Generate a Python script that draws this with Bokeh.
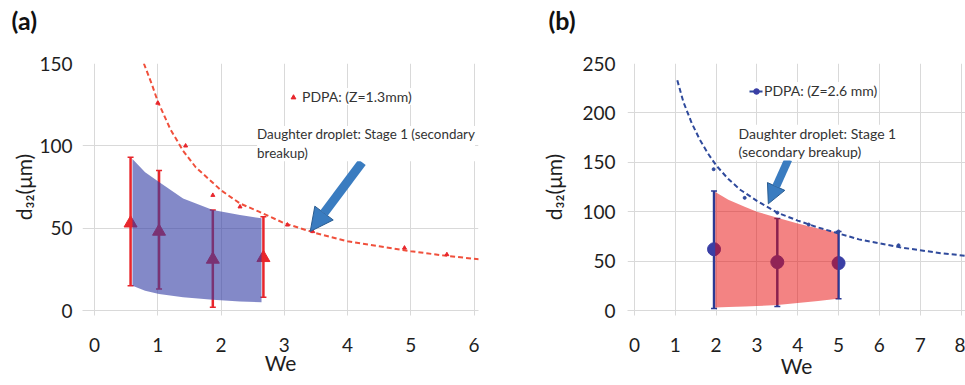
from bokeh.plotting import figure
from bokeh.layouts import row
from bokeh.models import (Label, Arrow, NormalHead, Range1d, FixedTicker,
                          Legend, LegendItem, Title)
from bokeh.embed import file_html
from bokeh.resources import INLINE

FONT = "Lato"

# ---------------- Panel (a) data ----------------
a_we = [0.57, 1.02, 1.87, 2.67]
a_mean = [53, 48, 31, 32]
a_low = [15, 13, 2, 8]
a_high = [93, 85, 61, 57]
a_band_x = [0.6, 0.8, 1.02, 1.4, 1.87, 2.3, 2.64]
a_band_upper = [92, 84, 78, 68, 61, 58, 56]
a_band_lower = [15, 12, 10, 8, 6.5, 5.5, 5]
a_fit_x = [0.78, 0.9, 1.0, 1.2, 1.4, 1.6, 1.8, 2.0, 2.3, 2.6, 3.0, 3.5, 4.0, 4.5, 5.0, 5.5, 6.1]
a_fit_y = [150, 138, 127, 110, 97, 87, 80, 73, 65, 60, 53, 47, 42, 39, 36, 33.5, 31]
a_pts_x = [1.0, 1.44, 1.87, 2.3, 3.05, 3.45, 4.9, 5.57]
a_pts_y = [126, 100, 70, 63, 52, 48, 38, 34]
a_xticks = [0, 1, 2, 3, 4, 5, 6]
a_yticks = [0, 50, 100, 150]

# ---------------- Panel (b) data ----------------
b_we = [1.95, 3.5, 5.0]
b_mean = [62, 49, 48]
b_low = [2, 4, 12]
b_high = [121, 93, 80]
b_band_x = [1.98, 2.3, 2.7, 3.0, 3.5, 4.0, 4.5, 4.98]
b_band_upper = [120, 112, 105, 100, 94, 88, 83, 79]
b_band_lower = [3, 3.5, 4, 4.5, 5.5, 7.5, 9.5, 12]
b_fit_x = [1.05, 1.2, 1.4, 1.6, 1.8, 2.0, 2.3, 2.6, 3.0, 3.5, 4.0, 4.5, 5.0, 5.5, 6.0, 6.5, 7.0, 7.5, 8.2]
b_fit_y = [233, 211, 190, 173, 159, 147, 133, 122, 111, 99, 91, 84, 78, 72, 68, 64, 61, 58, 55]
b_pts_x = [1.94, 2.7, 3.5, 4.27, 5.0, 6.47]
b_pts_y = [143, 114, 99, 87, 80, 66]
b_xticks = [0, 1, 2, 3, 4, 5, 6, 7, 8]
b_yticks = [0, 50, 100, 150, 200, 250]

GRID = "#d9d9d9"
TXT = "#1e1e1e"


def base_fig(width, x_range, y_range, border_left, border_bottom, xticks, yticks,
             ylabel_standoff, ytick_standoff, xlabel_standoff, title, title_offset):
    p = figure(width=width, height=385, x_range=Range1d(*x_range), y_range=Range1d(*y_range),
               output_backend="svg", toolbar_location=None, title=None,
               min_border_left=border_left, min_border_right=0 if width > 482 else 4,
               min_border_top=63, min_border_bottom=border_bottom)
    p.outline_line_color = None
    p.background_fill_color = "white"
    # spacer panel next to the frame, then the panel tag above it
    p.add_layout(Title(text=" ", text_font_size="10px", standoff=14), "above")
    p.add_layout(Title(text=title, align="left", vertical_align="top", offset=title_offset,
                       standoff=0, text_font=FONT, text_font_size="25px",
                       text_font_style="bold", text_color="#111111"), "above")
    p.xaxis.ticker = FixedTicker(ticks=xticks)
    p.yaxis.ticker = FixedTicker(ticks=yticks)
    p.xgrid.ticker = FixedTicker(ticks=xticks)
    p.ygrid.ticker = FixedTicker(ticks=yticks)
    p.grid.grid_line_color = GRID
    p.grid.grid_line_width = 1
    p.xaxis.axis_line_color = GRID
    p.xaxis.major_tick_line_color = GRID
    p.xaxis.major_tick_out = 5
    p.xaxis.major_tick_in = 0
    p.xaxis.minor_tick_line_color = None
    p.yaxis.axis_line_color = None
    p.yaxis.major_tick_line_color = None
    p.yaxis.minor_tick_line_color = None
    for ax in (p.xaxis, p.yaxis):
        ax.major_label_text_font = FONT
        ax.major_label_text_font_size = "19px"
        ax.major_label_text_color = TXT
        ax.axis_label_text_font = FONT
        ax.axis_label_text_font_style = "normal"
        ax.axis_label_text_font_size = "21px"
        ax.axis_label_text_color = TXT
    p.xaxis.major_label_standoff = 22
    p.yaxis.major_label_standoff = ytick_standoff
    p.yaxis.axis_label = "d₃₂(μm)"
    p.yaxis.axis_label_standoff = ylabel_standoff
    p.xaxis.axis_label = "We"
    p.xaxis.axis_label_standoff = xlabel_standoff
    return p


# ======================= Panel (a) =======================
pa = base_fig(482, (-0.19, 6.07), (0, 150), 82, 73, a_xticks, a_yticks, 0, 4, -5, "(a)", -71)

pa.segment(x0=a_we, y0=a_low, x1=a_we, y1=a_high, line_color="#e8262c", line_width=2.5)
pa.scatter(x=a_we, y=a_low, marker="dash", size=6, line_color="#e8262c", line_width=1.5)
pa.scatter(x=a_we, y=a_high, marker="dash", size=6, line_color="#e8262c", line_width=1.5)
ra_mean = pa.scatter(x=a_we, y=a_mean, marker="triangle", size=13,
                     fill_color="#e8262c", line_color="#e8262c")
pa.varea(x=a_band_x, y1=a_band_lower, y2=a_band_upper, fill_color="#303aa3", fill_alpha=0.6)
pa.line(x=a_fit_x, y=a_fit_y, line_color="#f0503c", line_width=2, line_dash="5 3")
pa.scatter(x=a_pts_x, y=a_pts_y, marker="triangle", size=4, fill_color="#e8262c", line_color="#e8262c")

pa.add_layout(Arrow(x_start=4.23, y_start=90, x_end=3.41, y_end=48,
                    line_color="#3a7cc0", line_width=9,
                    end=NormalHead(size=23, fill_color="#3a7cc0", line_color="#2a5c90", line_width=1)))

pa.add_layout(Label(x=2.57, y=112, text="Daughter droplet: Stage 1 (secondary\nbreakup)",
                    text_font=FONT, text_font_size="13.4px", text_color="#333333",
                    text_baseline="top", text_align="left",
                    background_fill_color="white", text_line_height=1.2))

leg_a = Legend(items=[LegendItem(label="PDPA: (Z=1.3mm)", renderers=[ra_mean])],
               location=(205, 205), border_line_color=None, background_fill_color="white",
               padding=2, margin=0, glyph_width=12, glyph_height=14, label_standoff=3,
               label_text_font=FONT, label_text_font_size="14px", label_text_color="#333333")
pa.add_layout(leg_a)

# ======================= Panel (b) =======================
pb = base_fig(483, (-0.17, 8.11), (0, 250), 145, 75, b_xticks, b_yticks, 13, 6, -2, "(b)", -79)

pb.segment(x0=b_we, y0=b_low, x1=b_we, y1=b_high, line_color="#2b3a94", line_width=2.5)
pb.scatter(x=b_we, y=b_low, marker="dash", size=6, line_color="#2b3a94", line_width=1.5)
pb.scatter(x=b_we, y=b_high, marker="dash", size=6, line_color="#2b3a94", line_width=1.5)
rb_mean = pb.scatter(x=b_we, y=b_mean, marker="circle", size=13,
                     fill_color="#3a3fa5", line_color="#3a3fa5")
pb.varea(x=b_band_x, y1=b_band_lower, y2=b_band_upper, fill_color="#e80808", fill_alpha=0.5)
rb_fit = pb.line(x=b_fit_x, y=b_fit_y, line_color="#2f4a9c", line_width=2, line_dash="5 3")
pb.scatter(x=b_pts_x, y=b_pts_y, marker="circle", size=3, fill_color="#2f4a9c", line_color="#2f4a9c")

pb.add_layout(Arrow(x_start=3.77, y_start=153, x_end=3.28, y_end=108,
                    line_color="#3a7cc0", line_width=8,
                    end=NormalHead(size=19, fill_color="#3a7cc0", line_color="#2a5c90", line_width=1)))

pb.add_layout(Label(x=2.55, y=188, text="Daughter droplet: Stage 1\n(secondary breakup)",
                    text_font=FONT, text_font_size="14px", text_color="#333333",
                    text_baseline="top", text_align="left",
                    background_fill_color="white", text_line_height=1.1))

leg_b = Legend(items=[LegendItem(label="PDPA: (Z=2.6 mm)", renderers=[rb_fit, rb_mean])],
               location=(122, 211), border_line_color=None, background_fill_color="white",
               padding=2, margin=0, glyph_width=14, glyph_height=14, label_standoff=1,
               label_text_font=FONT, label_text_font_size="14px", label_text_color="#333333")
pb.add_layout(leg_b)

layout = row(pa, pb)
open("out.html", "w").write(file_html(layout, INLINE))
